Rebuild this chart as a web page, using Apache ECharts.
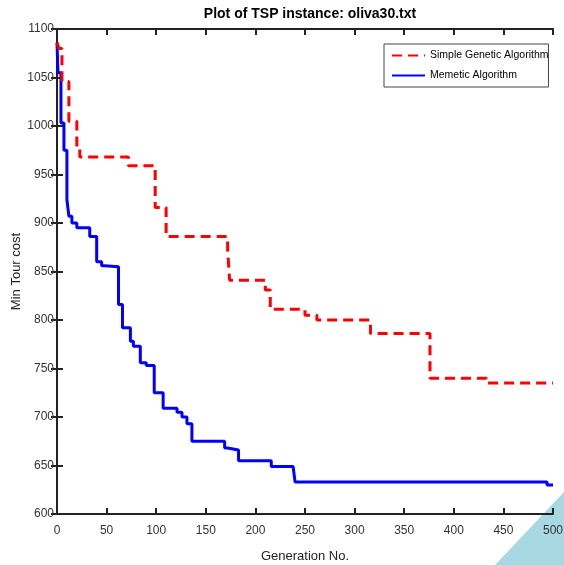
<!DOCTYPE html>
<html style="height: 100%">
<head>
<meta charset="utf-8">
<script src="https://cdn.jsdelivr.net/npm/echarts@6/dist/echarts.min.js"></script>
</head>
<body style="height: 100%; margin: 0; background: #fff">
<div id="container" style="width: 564px; height: 565px;"></div>
<script type="text/javascript">
// generation at which the best cost changes, and the new cost
var gaGen  = [0, 2, 5, 12, 20, 23, 72, 99, 110, 172, 174, 210, 215, 250, 262, 316, 376, 433, 500];
var gaCost = [1086, 1080, 1046, 1005, 976, 968, 959, 916, 886, 873, 841, 831, 811, 805, 800, 786, 740, 735, 735];

var maGen  = [0, 1, 4, 7, 10, 12, 15, 20, 33, 40, 45, 48, 62, 66, 74, 77, 84, 90, 98, 107, 121, 126, 131, 136, 169, 172, 183, 216, 238, 240, 494, 500];
var maCost = [1086, 1055, 1003, 975, 924, 907, 900, 895, 886, 860, 856, 855, 816, 792, 778, 773, 756, 753, 725, 709, 705, 700, 693, 675, 668, 666, 655, 649, 647, 633, 630, 630];

var seriesNames = ['Simple Genetic Algorithm', 'Memetic Algorithm'];

function pairs(xs, ys){
	var out = [];
	for (var i = 0; i < xs.length; i++) {
		out.push([xs[i], ys[i]]);
	}
	return out;
}

var dom = document.getElementById("container");
var myChart = echarts.init(dom);
var font = 'Liberation Sans, Arial, sans-serif';
var plain = function (v) { return String(v); };

var option = {
	animation: false,
	backgroundColor: '#fff',
	title: {
		text: 'Plot of TSP instance: oliva30.txt',
		left: 305,
		top: 2,
		textAlign: 'center',
		textStyle: { fontFamily: font, fontSize: 14, fontWeight: 'bold', color: '#000' }
	},
	grid: { left: 57, right: 11, top: 29, bottom: 51, outerBoundsMode: 'none', containLabel: false },
	legend: {
		data: seriesNames,
		orient: 'vertical',
		left: 384,
		top: 44,
		padding: [6, 0, 6, 7],
		itemGap: 9,
		itemWidth: 33,
		itemHeight: 10,
		borderColor: '#444',
		borderWidth: 1,
		backgroundColor: '#fff',
		itemStyle: { opacity: 0 },
		textStyle: { fontFamily: font, fontSize: 10.5, color: '#000' }
	},
	xAxis: [{
		type: 'value', min: 0, max: 500, interval: 50,
		name: 'Generation No.', nameLocation: 'middle', nameGap: 36,
		nameTextStyle: { fontFamily: font, fontSize: 13, color: '#222' },
		axisLine: { lineStyle: { color: '#222', width: 2 } },
		axisTick: { inside: true, length: 6, lineStyle: { color: '#222', width: 2 } },
		axisLabel: { fontFamily: font, fontSize: 12, color: '#333', margin: 11, formatter: plain },
		splitLine: { show: false }
	}, {
		type: 'value', min: 0, max: 500, interval: 50, position: 'top',
		axisLine: { lineStyle: { color: '#222', width: 2 } },
		axisTick: { inside: true, length: 6, lineStyle: { color: '#222', width: 2 } },
		axisLabel: { show: false },
		splitLine: { show: false }
	}],
	yAxis: [{
		type: 'value', min: 600, max: 1100, interval: 50,
		name: 'Min Tour cost', nameLocation: 'middle', nameGap: 34, nameRotate: 90,
		nameMoveOverlap: false,
		nameTextStyle: { fontFamily: font, fontSize: 13, color: '#222' },
		axisLine: { show: true, lineStyle: { color: '#222', width: 2 } },
		axisTick: { show: true, inside: true, length: 6, lineStyle: { color: '#222', width: 2 } },
		axisLabel: { fontFamily: font, fontSize: 12, color: '#333', margin: 3, formatter: plain },
		splitLine: { show: false }
	}, {
		type: 'value', min: 600, max: 1100, interval: 50, position: 'right',
		axisLine: { show: true, lineStyle: { color: '#222', width: 2 } },
		axisTick: { show: true, inside: true, length: 6, lineStyle: { color: '#222', width: 2 } },
		axisLabel: { show: false },
		splitLine: { show: false }
	}],
	series: [{
		name: seriesNames[0],
		type: 'line',
		step: 'end',
		symbol: 'none',
		color: '#ff0000',
		lineStyle: { color: '#ff0000', width: 3, type: [10, 6] },
		data: pairs(gaGen, gaCost),
		z: 3
	}, {
		name: seriesNames[1],
		type: 'line',
		step: 'end',
		symbol: 'none',
		color: '#0000ff',
		lineStyle: { color: '#0000ff', width: 3 },
		data: pairs(maGen, maCost),
		z: 2
	}],
	graphic: [{
		type: 'polygon',
		shape: { points: [[495, 565], [564, 492], [564, 565]] },
		style: { fill: '#a8d8e2' },
		z: -1
	}]
};
myChart.setOption(option, true);
</script>
</body>
</html>
